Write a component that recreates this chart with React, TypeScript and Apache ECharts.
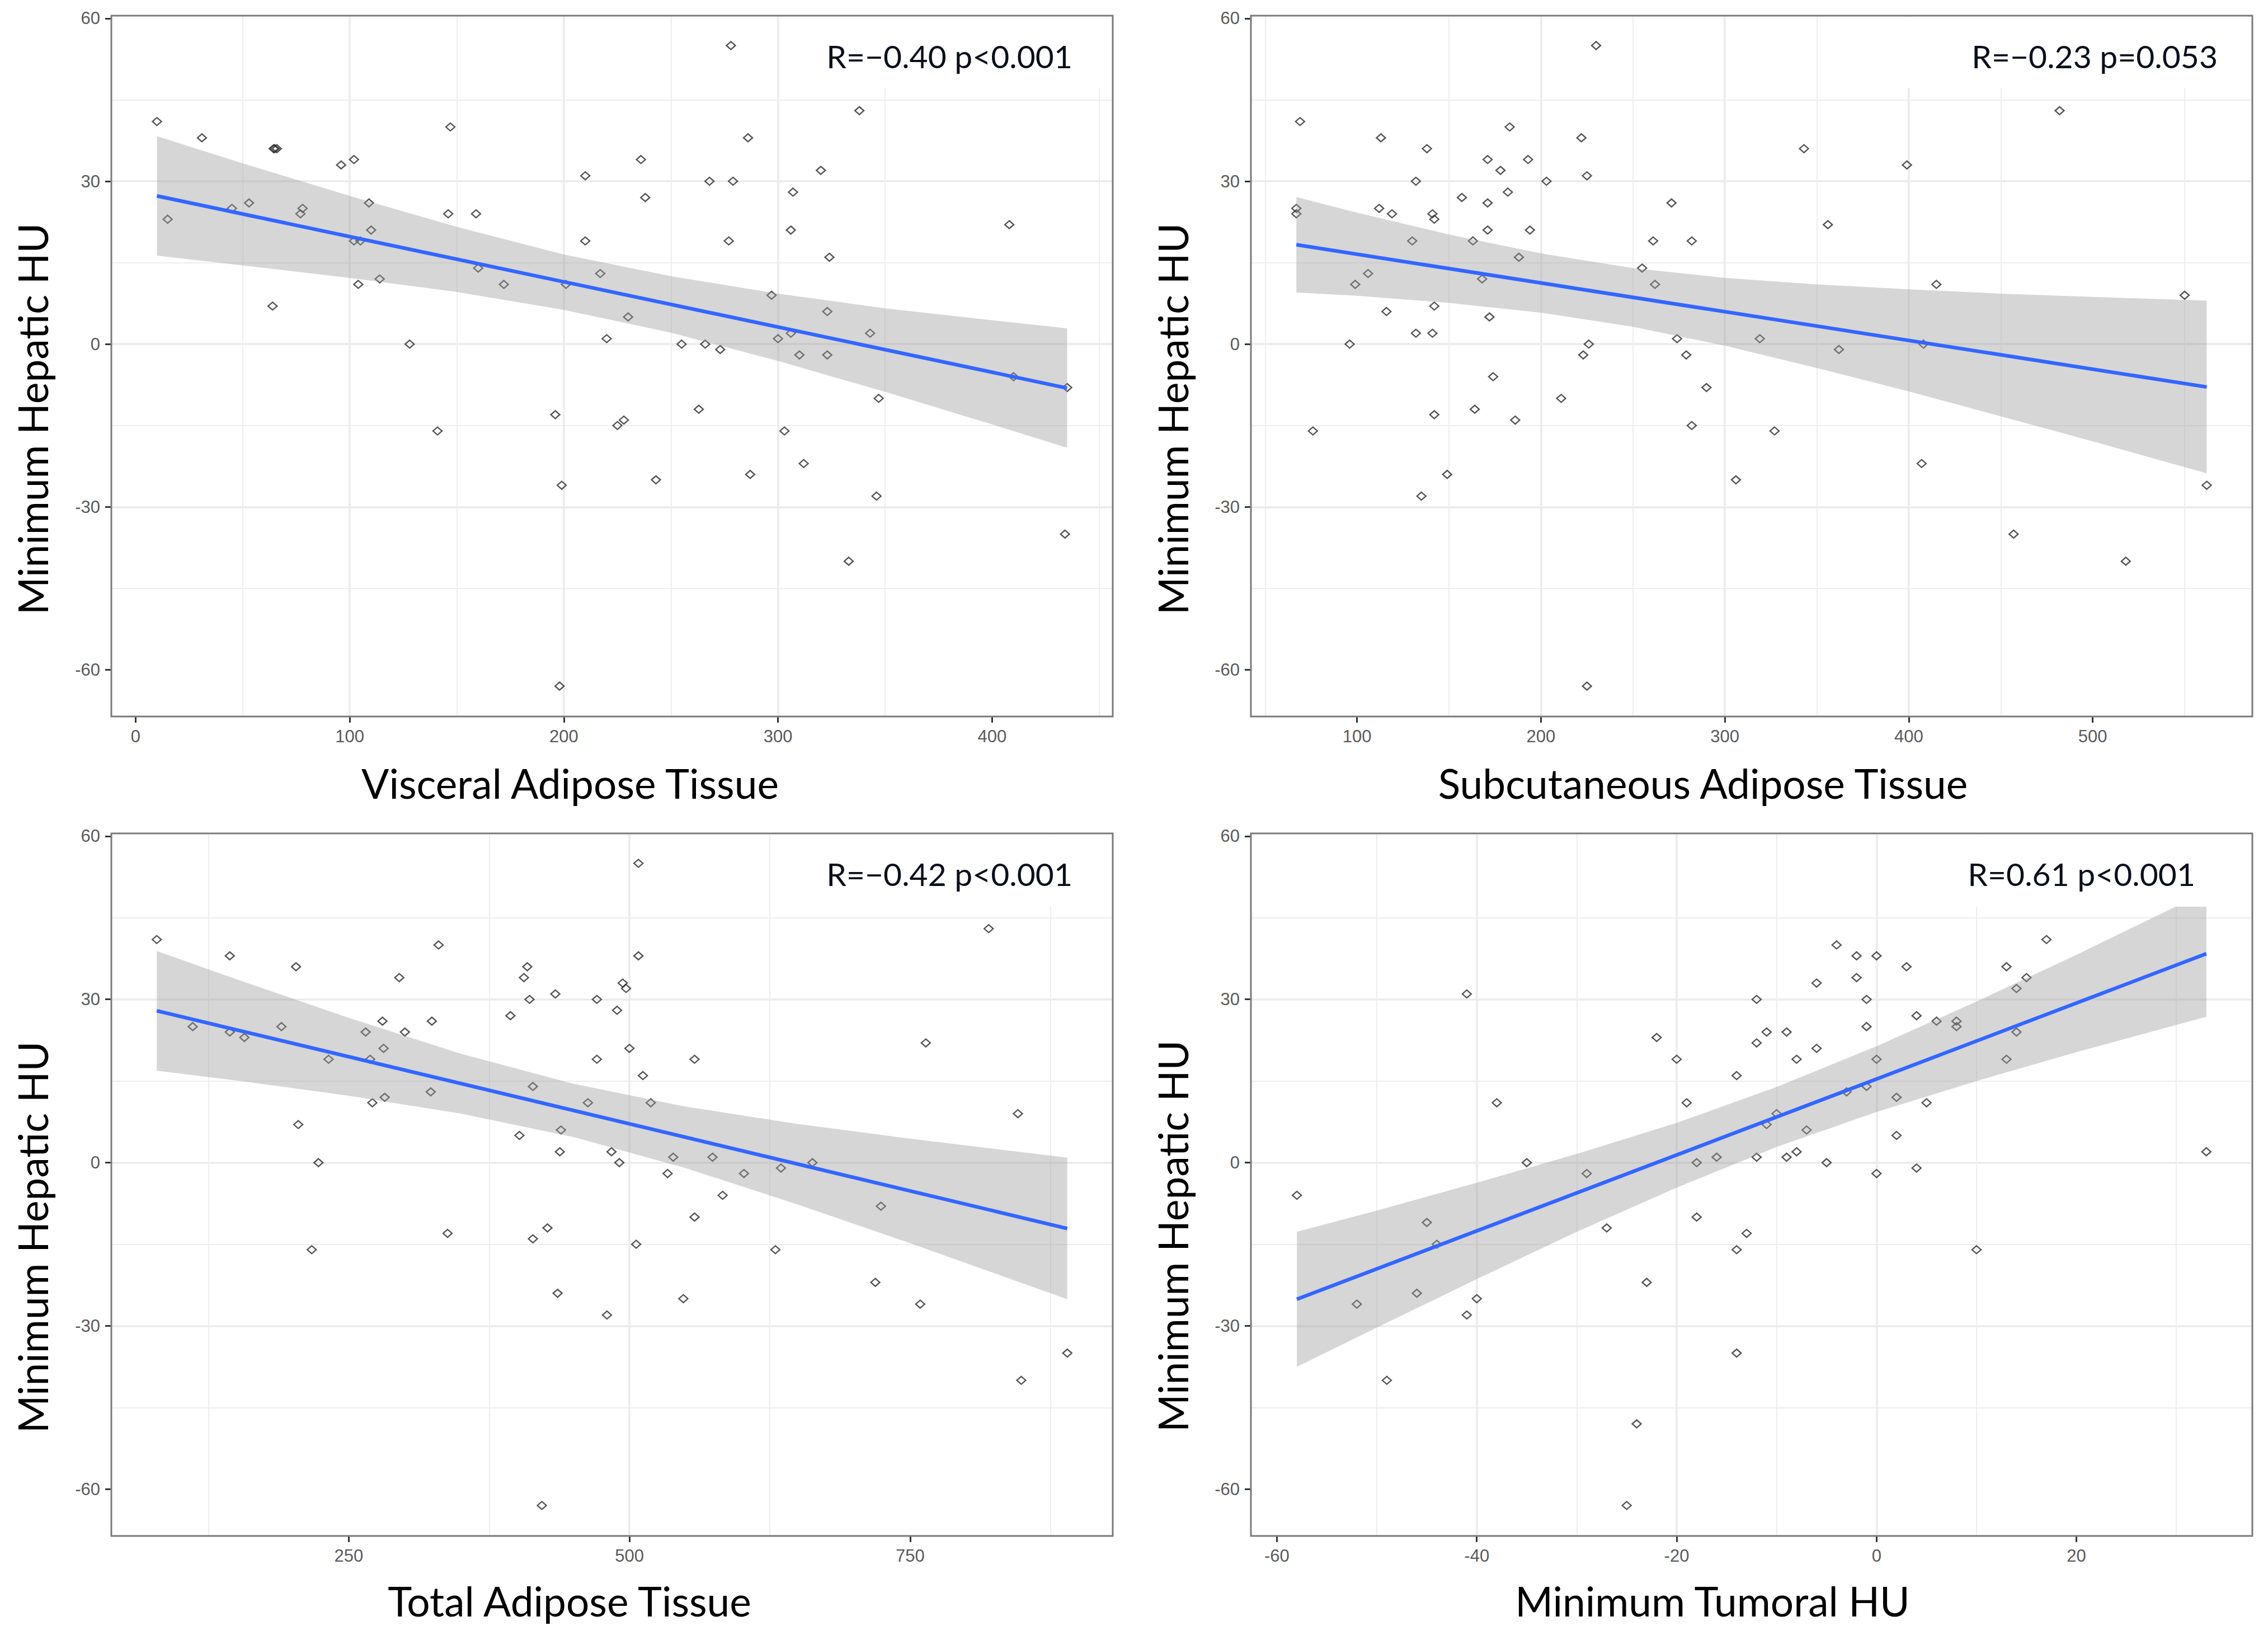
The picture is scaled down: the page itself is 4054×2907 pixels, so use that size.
import React, { useEffect, useRef } from "react";
import * as echarts from "echarts";

// ---------------- data ----------------
const yTicks = [-60, -30, 0, 30, 60];

// Panel 1: Visceral Adipose Tissue
const vatTicks = [0, 100, 200, 300, 400];
const vatX = [10, 15, 31, 45, 53, 64, 64.5, 65, 66, 77, 78, 96, 102, 102, 105, 104, 109, 110, 114, 128, 141, 147, 146, 159, 160, 172, 196, 199, 198, 201, 210, 210, 217, 220, 225, 228, 230, 236, 238, 243, 255, 263, 266, 268, 273, 277, 278, 279, 286, 287, 297, 300, 303, 306, 306, 307, 310, 312, 320, 323, 323, 324, 333, 338, 343, 346, 347, 408, 410, 434, 435];
const vatY = [41, 23, 38, 25, 26, 7, 36, 36, 36, 24, 25, 33, 34, 19, 19, 11, 26, 21, 12, 0, -16, 40, 24, 24, 14, 11, -13, -26, -63, 11, 31, 19, 13, 1, -15, -14, 5, 34, 27, -25, 0, -12, 0, 30, -1, 19, 55, 30, 38, -24, 9, 1, -16, 21, 2, 28, -2, -22, 32, 6, -2, 16, -40, 43, 2, -28, -10, 22, -6, -35, -8];
const vatBandX = [10, 50, 100, 150, 200, 250, 300, 350, 400, 435];
const vatLower = [16.3, 14.5, 12.2, 9.6, 6.3, 2.1, -3.1, -8.8, -14.8, -19.1];
const vatUpper = [38.3, 33.3, 27.3, 21.6, 16.5, 12.5, 9.3, 6.6, 4.4, 2.9];
const vatFit = [[10, 27.3], [435, -8.1]];

// Panel 2: Subcutaneous Adipose Tissue
const satTicks = [100, 200, 300, 400, 500];
const satX = [67, 67, 69, 76, 96, 99, 106, 112, 113, 116, 119, 130, 132, 132, 135, 138, 141, 142, 142, 141, 142, 149, 157, 163, 164, 168, 171, 171, 171, 172, 174, 178, 182, 183, 186, 188, 193, 194, 203, 211, 222, 223, 225, 225, 226, 230, 255, 261, 262, 271, 274, 279, 282, 282, 290, 306, 319, 327, 343, 356, 362, 399, 407, 408, 415, 457, 482, 518, 550, 562];
const satY = [25, 24, 41, -16, 0, 11, 13, 25, 38, 6, 24, 19, 30, 2, -28, 36, 24, 23, 7, 2, -13, -24, 27, 19, -12, 12, 34, 26, 21, 5, -6, 32, 28, 40, -14, 16, 34, 21, 30, -10, 38, -2, 31, -63, 0, 55, 14, 19, 11, 26, 1, -2, 19, -15, -8, -25, 1, -16, 36, 22, -1, 33, -22, 0, 11, -35, 43, -40, 9, -26];
const satBandX = [67, 100, 150, 200, 250, 300, 350, 400, 450, 500, 562];
const satLower = [9.5, 8.9, 7.6, 5.8, 3.2, -0.3, -4.4, -8.7, -13.3, -17.9, -23.8];
const satUpper = [27.1, 24.2, 20.2, 16.7, 14.0, 12.2, 11.0, 10.1, 9.3, 8.7, 8.0];
const satFit = [[67, 18.3], [562, -7.9]];

// Panel 3: Total Adipose Tissue
const tatTicks = [250, 500, 750];
const tatX = [79, 111, 144, 144, 157, 190, 203, 205, 217, 223, 232, 265, 269, 271, 280, 281, 282, 295, 300, 323, 324, 330, 338, 394, 402, 406, 409, 411, 414, 414, 422, 427, 434, 436, 438, 439, 463, 471, 471, 480, 484, 489, 491, 494, 497, 500, 506, 508, 508, 512, 519, 534, 539, 548, 558, 558, 574, 583, 602, 630, 635, 663, 719, 724, 759, 764, 820, 846, 849, 890];
const tatY = [41, 25, 38, 24, 23, 25, 36, 7, -16, 0, 19, 24, 19, 11, 26, 21, 12, 34, 24, 13, 26, 40, -13, 27, 5, 34, 36, 30, 14, -14, -63, -12, 31, -24, 2, 6, 11, 30, 19, -28, 2, 28, 0, 33, 32, 21, -15, 55, 38, 16, 11, -2, 1, -25, 19, -10, 1, -6, -2, -16, -1, 0, -22, -8, -26, 22, 43, 9, -40, -35];
const tatBandX = [79, 150, 250, 350, 450, 550, 650, 750, 890];
const tatLower = [16.9, 15.1, 12.3, 9.0, 4.7, -1.0, -7.7, -14.8, -25.1];
const tatUpper = [38.9, 33.7, 26.6, 20.0, 14.5, 10.3, 7.1, 4.4, 0.9];
const tatFit = [[79, 27.9], [890, -12.1]];

// Panel 4: Minimum Tumoral HU
const tumTicks = [-60, -40, -20, 0, 20];
const tumX = [-58, -52, -49, -46, -45, -44, -41, -41, -40, -38, -35, -29, -27, -25, -24, -23, -22, -20, -19, -18, -18, -16, -14, -14, -14, -13, -12, -12, -12, -11, -11, -10, -9, -9, -8, -8, -7, -6, -6, -5, -4, -3, -2, -2, -1, -1, -1, 0, 0, 0, 2, 2, 3, 4, 4, 5, 6, 8, 8, 10, 13, 13, 14, 14, 15, 17, 33];
const tumY = [-6, -26, -40, -24, -11, -15, 31, -28, -25, 11, 0, -2, -12, -63, -48, -22, 23, 19, 11, 0, -10, 1, 16, -16, -35, -13, 30, 22, 1, 24, 7, 9, 24, 1, 19, 2, 6, 33, 21, 0, 40, 13, 38, 34, 30, 25, 14, 38, 19, -2, 12, 5, 36, 27, -1, 11, 26, 26, 25, -16, 36, 19, 32, 24, 34, 41, 2];
const tumBandX = [-58, -50, -40, -30, -20, -10, 0, 10, 20, 33];
const tumLower = [-37.5, -30.3, -21.4, -12.7, -4.6, 2.9, 9.3, 15.0, 20.3, 26.8];
const tumUpper = [-12.7, -8.8, -3.7, 1.6, 7.3, 13.9, 21.4, 29.6, 38.2, 49.8];
const tumFit = [[-58, -25.1], [33, 38.4]];

const xTitles = ["Visceral Adipose Tissue", "Subcutaneous Adipose Tissue", "Total Adipose Tissue", "Minimum Tumoral HU"];
const yTitle = "Minimum Hepatic HU";
const statLabels = ["R=\u22120.40 p<0.001", "R=\u22120.23 p=0.053", "R=\u22120.42 p<0.001", "R=0.61 p<0.001"];

// ---------------- layout / style ----------------
const W = 4054;
const H = 2907;
const yRange = [-68.6, 60.5];

const layout = [
  { left: 199, top: 28, width: 1790, height: 1253, xMin: -11.3, xMax: 456.3, step: 100, xTitle: [1019, 1400], yTitleX: 58, yTitleY: 749, stat: [1917, 100], box: [1420, 30, 566, 127] },
  { left: 2236, top: 28, width: 1790, height: 1253, xMin: 42.3, xMax: 586.8, step: 100, xTitle: [3044, 1400], yTitleX: 2096, yTitleY: 749, stat: [3964, 100], box: [3410, 30, 613, 127] },
  { left: 199, top: 1490, width: 1790, height: 1256, xMin: 38.5, xMax: 930.5, step: 250, xTitle: [1018, 2862], yTitleX: 58, yTitleY: 2212, stat: [1917, 1562], box: [1420, 1492, 566, 129] },
  { left: 2236, top: 1490, width: 1790, height: 1256, xMin: -62.6, xMax: 37.6, step: 20, xTitle: [3061, 2862], yTitleX: 2096, yTitleY: 2210, stat: [3924, 1562], box: [3410, 1492, 613, 129] },
];

const panelData = [
  { x: vatX, y: vatY, bx: vatBandX, lo: vatLower, hi: vatUpper, fit: vatFit, ticks: vatTicks },
  { x: satX, y: satY, bx: satBandX, lo: satLower, hi: satUpper, fit: satFit, ticks: satTicks },
  { x: tatX, y: tatY, bx: tatBandX, lo: tatLower, hi: tatUpper, fit: tatFit, ticks: tatTicks },
  { x: tumX, y: tumY, bx: tumBandX, lo: tumLower, hi: tumUpper, fit: tumFit, ticks: tumTicks },
];

const tickLabelStyle = { color: "#5a5a5a", fontSize: 31, fontFamily: "Liberation Sans, Arial, sans-serif" };
const tickStyle = { show: true, length: 11, lineStyle: { color: "#333333", width: 3 } };
const majorGrid = { show: true, showMinLine: false, showMaxLine: false, lineStyle: { color: "#EBEBEB", width: 3.5 } };
const minorGrid = { show: true, lineStyle: { color: "#EEEEEE", width: 2 } };

function buildOption() {
  const grid: any[] = [];
  const xAxis: any[] = [];
  const yAxis: any[] = [];
  const series: any[] = [];
  const graphic: any[] = [];

  layout.forEach((L, i) => {
    const P = panelData[i];
    grid.push({ left: L.left, top: L.top, width: L.width, height: L.height, containLabel: false, outerBoundsMode: "none", show: false });
    xAxis.push({
      type: "value", gridIndex: i, min: L.xMin, max: L.xMax, splitNumber: 5,
      minInterval: L.step, maxInterval: L.step,
      axisLine: { show: false, onZero: false },
      axisTick: { ...tickStyle, customValues: P.ticks },
      axisLabel: { ...tickLabelStyle, margin: 20, customValues: P.ticks, showMinLabel: true, showMaxLabel: true },
      splitLine: majorGrid,
      minorTick: { show: false, splitNumber: 2 },
      minorSplitLine: minorGrid,
    });
    yAxis.push({
      type: "value", gridIndex: i, min: yRange[0], max: yRange[1], splitNumber: 5,
      minInterval: 30, maxInterval: 30,
      axisLine: { show: false, onZero: false },
      axisTick: { ...tickStyle, customValues: yTicks },
      axisLabel: { ...tickLabelStyle, margin: 20, customValues: yTicks },
      splitLine: majorGrid,
      minorTick: { show: false, splitNumber: 2 },
      minorSplitLine: minorGrid,
    });

    series.push({
      type: "scatter", xAxisIndex: i, yAxisIndex: i, silent: true, z: 2,
      symbol: "diamond", symbolSize: [16, 14],
      itemStyle: { color: "rgba(0,0,0,0)", borderColor: "#2a2a2a", borderWidth: 2.4 },
      data: P.x.map((v, k) => [v, P.y[k]]),
    });
    series.push({
      type: "custom", xAxisIndex: i, yAxisIndex: i, silent: true, z: 3,
      data: [[P.bx[0], P.lo[0]]],
      renderItem: (_params: any, api: any) => {
        const pts: number[][] = [];
        P.bx.forEach((bx, k) => pts.push(api.coord([bx, P.hi[k]])));
        for (let k = P.bx.length - 1; k >= 0; k--) pts.push(api.coord([P.bx[k], P.lo[k]]));
        return { type: "polygon", shape: { points: pts }, style: { fill: "rgba(153,153,153,0.4)" } };
      },
    });
    series.push({
      type: "line", xAxisIndex: i, yAxisIndex: i, silent: true, z: 4,
      showSymbol: false, symbol: "none",
      lineStyle: { color: "#3366FF", width: 6.5 },
      data: P.fit,
    });

    // white box behind the statistic label
    graphic.push({
      type: "rect", z: 20, silent: true,
      shape: { x: L.box[0], y: L.box[1], width: L.box[2], height: L.box[3] },
      style: { fill: "#ffffff" },
    });
    // panel border
    graphic.push({
      type: "rect", z: 21, silent: true,
      shape: { x: L.left, y: L.top, width: L.width, height: L.height },
      style: { fill: "none", stroke: "#7a7a7a", lineWidth: 3 },
    });
    // statistic label
    graphic.push({
      type: "text", z: 22, silent: true, x: L.stat[0], y: L.stat[1],
      style: {
        text: statLabels[i], fill: "#0b0f1c", font: "57px Lato",
        align: "right", verticalAlign: "middle", textAlign: "right", textVerticalAlign: "middle",
      },
    });
    // x title
    graphic.push({
      type: "text", z: 22, silent: true, x: L.xTitle[0], y: L.xTitle[1],
      style: {
        text: xTitles[i], fill: "#000000", font: "73px Lato",
        align: "center", verticalAlign: "middle", textAlign: "center", textVerticalAlign: "middle",
      },
    });
    // y title
    graphic.push({
      type: "text", z: 22, silent: true, x: L.yTitleX, y: L.yTitleY, rotation: Math.PI / 2,
      style: {
        text: yTitle, fill: "#000000", font: "73px Lato",
        align: "center", verticalAlign: "middle", textAlign: "center", textVerticalAlign: "middle",
      },
    });
  });

  return { animation: false, backgroundColor: "#ffffff", grid, xAxis, yAxis, series, graphic };
}

export default function App() {
  const ref = useRef<HTMLDivElement>(null);
  useEffect(() => {
    const chart = echarts.init(ref.current as HTMLDivElement, null, { renderer: "svg", width: W, height: H });
    chart.setOption(buildOption() as any);
    return () => chart.dispose();
  }, []);
  return <div ref={ref} style={{ position: "fixed", left: 0, top: 0, width: W, height: H, background: "#ffffff" }} />;
}
